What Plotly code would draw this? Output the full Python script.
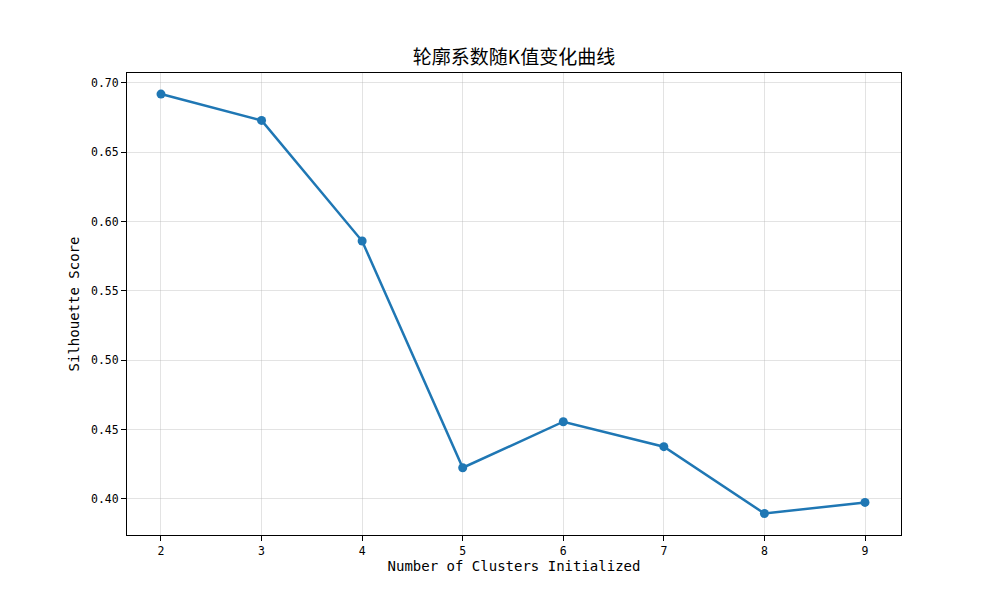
import plotly.graph_objects as go

k_values = [2, 3, 4, 5, 6, 7, 8, 9]
silhouette = [0.692, 0.673, 0.586, 0.4225, 0.4557, 0.4377, 0.3895, 0.3975]
y_ticks = [0.40, 0.45, 0.50, 0.55, 0.60, 0.65, 0.70]

mono = "DejaVu Sans Mono, Noto Sans CJK SC"

fig = go.Figure(go.Scatter(
    x=k_values, y=silhouette, mode="lines+markers",
    line=dict(color="#1f77b4", width=2.5),
    marker=dict(color="#1f77b4", size=9),
))

axis_style = dict(
    showline=True, linecolor="black", linewidth=1, mirror=True,
    ticks="outside", ticklen=5, tickcolor="black",
    showgrid=True, gridcolor="rgba(176,176,176,0.35)", gridwidth=1,
    zeroline=False, tickfont=dict(family=mono, size=11.5, color="black"),
)

# page body adds ~7px offset, so margins are shifted to compensate
fig.update_layout(
    width=1000, height=600,
    paper_bgcolor="white", plot_bgcolor="white",
    margin=dict(l=119, r=107, t=65, b=73),
    showlegend=False,
    title=dict(text="轮廓系数随K值变化曲线", x=0.506, xanchor="center",
               y=0.917, yanchor="middle",
               font=dict(family="Noto Sans CJK SC", size=19, color="black")),
)
fig.update_xaxes(axis_style, range=[1.662, 9.358], tickvals=k_values,
                 title=dict(text="Number of Clusters Initialized", standoff=4,
                            font=dict(family=mono, size=14, color="black")))
fig.update_yaxes(axis_style, range=[0.374, 0.7072], tickvals=y_ticks,
                 tickformat=".2f",
                 title=dict(text="Silhouette Score", standoff=8,
                            font=dict(family=mono, size=14, color="black")))

fig.write_html("out.html")
